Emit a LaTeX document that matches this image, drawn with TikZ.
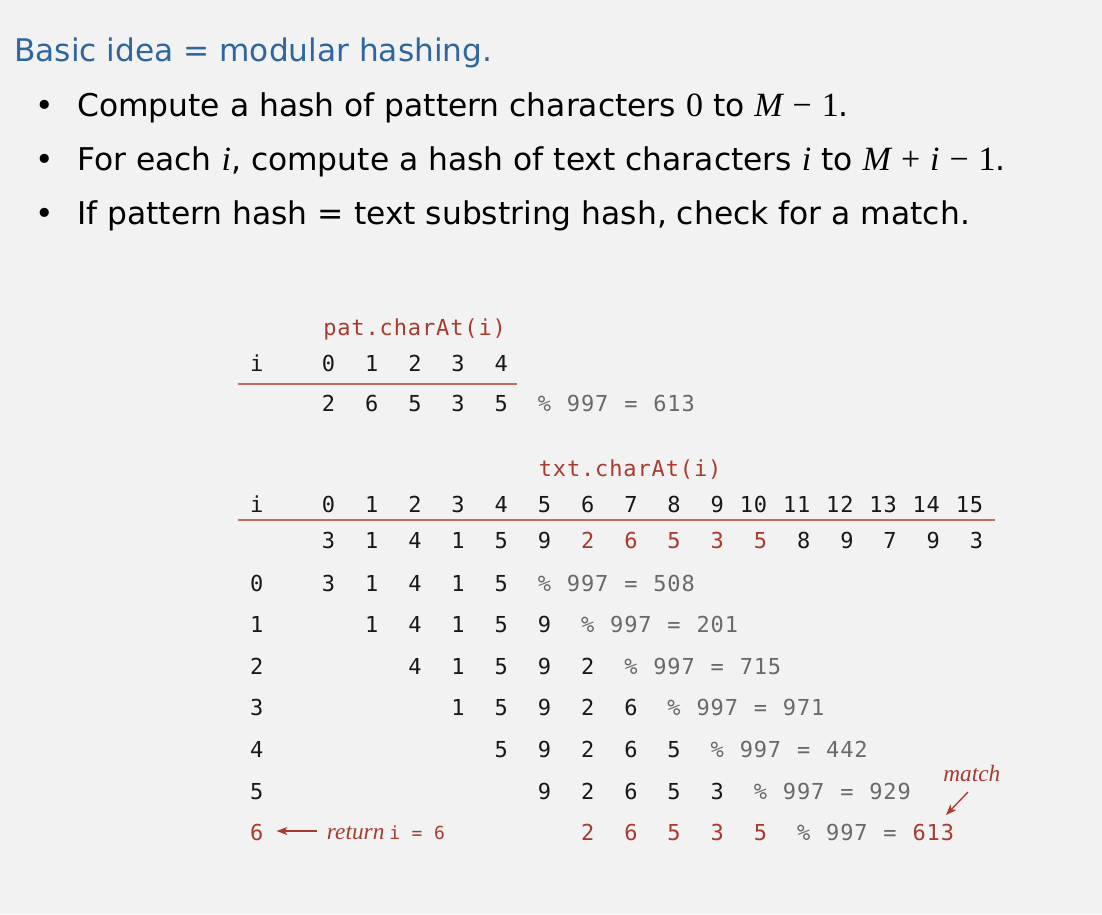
\documentclass[tikz,border=0pt]{standalone}
\usepackage{fontspec}
\setmainfont{DejaVu Sans}
\newfontfamily\tabfont[LetterSpace=4]{DejaVu Sans Mono}
\newfontfamily\serfont{Liberation Serif}
\usetikzlibrary{arrows.meta,calc}

\definecolor{paper}{RGB}{242,242,242}
\definecolor{headblue}{RGB}{47,102,160}
\definecolor{ink}{RGB}{24,24,24}
\definecolor{hred}{RGB}{168,58,48}
\definecolor{rulered}{RGB}{192,110,100}
\definecolor{calcgray}{RGB}{105,105,105}

% serif pieces inside the sans-serif bullet lines
\newcommand\serup[1]{{\serfont\fontsize{25.5}{28}\selectfont #1}}
\newcommand\serit[1]{{\serfont\itshape\fontsize{25.5}{28}\selectfont #1}}

\begin{document}
\begin{tikzpicture}[x=0.75pt,y=-0.75pt,
  body/.style={inner sep=0pt, anchor=base west, text=black,
    font=\fontsize{23.5}{28}\selectfont},
  cell/.style={inner sep=0pt, anchor=base, text=ink,
    font=\tabfont\fontsize{16.5}{18}\selectfont},
  hcell/.style={cell, text=hred},
  calc/.style={cell, text=calcgray},
  codelbl/.style={inner sep=0pt, anchor=base west, text=hred,
    font=\tabfont\fontsize{16.5}{18}\selectfont},
  note/.style={inner sep=0pt, anchor=base west, text=hred,
    font=\serfont\itshape\fontsize{17.5}{20}\selectfont},
  tabrule/.style={draw=rulered, line width=1.3pt},
  ptr/.style={draw=hred, line width=1pt, -{Stealth[length=8pt,width=6pt,inset=2pt]}}
]
\fill[paper] (0,0) rectangle (1102,914);
\useasboundingbox (0,0) rectangle (1102,914);

% heading and bullet list
\node[body, text=headblue, font=\fontsize{23.4}{28}\selectfont] (title) at (14,61) {Basic idea = modular hashing.};
\foreach \y/\n in {116/1,170/2,224/3}
  \node[inner sep=0pt, anchor=base, font=\fontsize{23.5}{28}\selectfont] (dot\n) at (45,\y) {•};
\node[body] (line1) at (77,116)
  {Compute a hash of pattern characters \serup{0} to \serit{M} \serup{−} \serup{1}.};
\node[body] (line2) at (77,170)
  {For each \serit{i}, compute a hash of text characters \serit{i} to \serit{M} \serup{+} \serit{i} \serup{−} \serup{1}.};
\node[body] (line3) at (77,224)
  {If pattern hash = text substring hash, check for a match.};

% pattern table
\node[codelbl] (patlbl) at (323,335) {pat.charAt(i)};
\node[cell] (pi) at (256.7,371.7) {i};
\foreach \k in {0,...,4}
  \node[cell] (ph\k) at ({328.5+43.2*\k},371.7) {\k};
\draw[tabrule] (238,384.3) -- (516.7,384.3);
\foreach \d [count=\k from 0] in {2,6,5,3,5}
  \node[cell] (pv\k) at ({328.5+43.2*\k},411) {\d};
\node[calc] (ppct) at ({328.5+43.2*5},411) {\%};
\node[calc] (pmod) at ({328.5+43.2*6},411) {997};
\node[calc] (peq) at ({328.5+43.2*7},411) {=};
\node[calc] (phash) at ({328.5+43.2*8},411) {613};

% text table
\node[codelbl] (txtlbl) at (538.5,476) {txt.charAt(i)};
\node[cell] (ti) at (256.7,512.7) {i};
\foreach \k in {0,...,9}
  \node[cell] (th\k) at ({328.5+43.2*\k},512.7) {\k};
\foreach \k in {10,...,15}
  \node[cell] (th\k) at ({328.5+43.2*\k-7},512.7) {\k};
\draw[tabrule] (238,520) -- (995,520);
\foreach \d [count=\k from 0] in {3,1,4,1,5,9,2,6,5,3,5,8,9,7,9,3}{
  \ifnum\k>5 \ifnum\k<11
    \node[hcell] (tv\k) at ({328.5+43.2*\k},548.3) {\d};
  \else
    \node[cell] (tv\k) at ({328.5+43.2*\k},548.3) {\d};
  \fi\else
    \node[cell] (tv\k) at ({328.5+43.2*\k},548.3) {\d};
  \fi
}

% one row per shift i: five digits, then the remainder
\foreach \r/\digits/\h in {0/{3,1,4,1,5}/508, 1/{1,4,1,5,9}/201,
    2/{4,1,5,9,2}/715, 3/{1,5,9,2,6}/971, 4/{5,9,2,6,5}/442,
    5/{9,2,6,5,3}/929}{
  \pgfmathsetmacro\yy{591+41.6*\r}
  \node[cell] (row\r) at (256.7,\yy) {\r};
  \foreach \d [count=\j from 0] in \digits
    \node[cell] (d\r-\j) at ({328.5+43.2*(\r+\j)},\yy) {\d};
  \node[calc] (pct\r) at ({328.5+43.2*(\r+5)},\yy) {\%};
  \node[calc] (mod\r) at ({328.5+43.2*(\r+6)},\yy) {997};
  \node[calc] (eq\r) at ({328.5+43.2*(\r+7)},\yy) {=};
  \node[calc] (hash\r) at ({328.5+43.2*(\r+8)},\yy) {\h};
}

% the matching row
\node[hcell] (row6) at (256.7,840.6) {6};
\foreach \d [count=\j from 0] in {2,6,5,3,5}
  \node[hcell] (d6-\j) at ({328.5+43.2*(6+\j)},840.6) {\d};
\node[calc] (pct6) at ({328.5+43.2*11},840.6) {\%};
\node[calc] (mod6) at ({328.5+43.2*12},840.6) {997};
\node[calc] (eq6) at ({328.5+43.2*13},840.6) {=};
\node[hcell] (hash6) at ({328.5+43.2*14},840.6) {613};

\node[note] (ret) at (326.7,839) {return};
\node[inner sep=0pt, anchor=base west, text=hred,
  font=\tabfont\fontsize{13.5}{15}\selectfont] (reti) at (389,839) {i = 6};
\coordinate (rtail) at ($(ret.base west)+(-10,-8)$);
\draw[ptr] (rtail) -- ($(row6.east |- rtail)+(13,0)$);

\node[note, font=\serfont\itshape\fontsize{17.5}{20}\selectfont] (match) at (943,781) {match};
\draw[ptr] ($(match.base west)+(25,11)$) -- ($(hash6.base)+(12.7,-25.6)$);
\end{tikzpicture}
\end{document}
